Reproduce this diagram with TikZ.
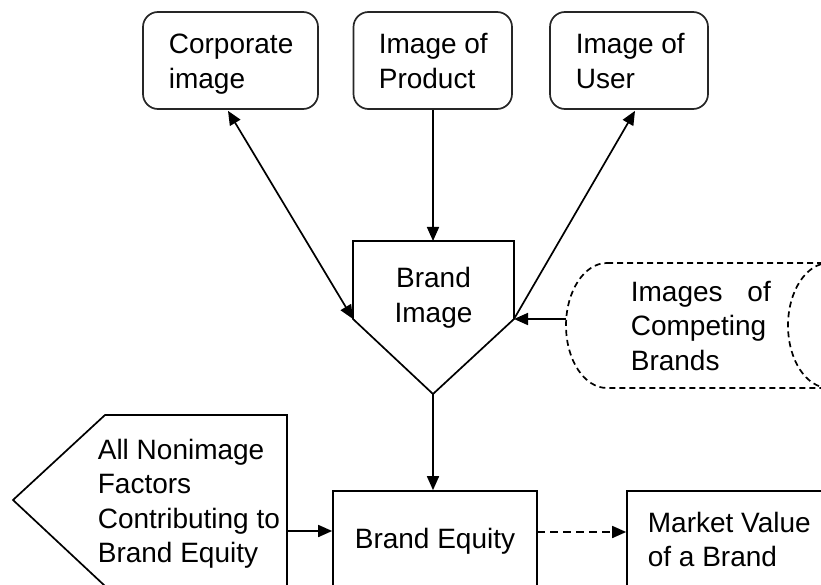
\documentclass[tikz,border=0pt]{standalone}
\usepackage{fontspec}
\setmainfont{Liberation Sans}
\usetikzlibrary{arrows.meta,calc}
\begin{document}
\begin{tikzpicture}[x=1pt,y=-1pt,
  font=\fontsize{28}{34.5}\selectfont,
  line width=1.7pt,
  rbox/.style={draw=black!85, rounded corners=15pt, inner sep=0pt},
  sbox/.style={draw, inner sep=0pt},
  txt/.style={inner sep=0pt, align=left},
  arr/.style={-{Triangle[length=14pt,width=12pt]}},
  dasharr/.style={arr, dash pattern=on 8pt off 5pt},
]
\useasboundingbox (0,0) rectangle (821,585);
\clip (0,0) rectangle (821,585);

% top rounded boxes
\node[rbox, minimum width=175pt, minimum height=97pt] (corp) at (230.5,60.5) {};
\node[txt, anchor=base west] (corptxt) at (168,88.5) {Corporate\\image};
\node[rbox, minimum width=158.5pt, minimum height=97pt] (prod) at (432.75,60.5) {};
\node[txt, anchor=base west] (prodtxt) at (378,88.5) {Image of\\Product};
\node[rbox, minimum width=158pt, minimum height=97pt] (user) at (629,60.5) {};
\node[txt, anchor=base west] (usertxt) at (575,88.5) {Image of\\User};

% brand image pentagon
\coordinate (bitl) at (353,241);
\coordinate (bitr) at (514,241);
\coordinate (bir) at (514,319);
\coordinate (bib) at (433,394);
\coordinate (bil) at (353,319);
\coordinate (bit) at (433,241);
\draw[line join=miter] (bitl) -- (bitr) -- (bir) -- (bib) -- (bil) -- cycle;
\node[txt, align=center, anchor=base] (bitxt) at (433.5,322) {Brand\\Image};

% competing brands (dashed stored-data shape)
\draw[dash pattern=on 6pt off 4pt] (607,263) -- (829,263)
  arc[start angle=270, end angle=90, x radius=41, y radius=62.5]
  -- (607,388)
  arc[start angle=90, end angle=270, x radius=41, y radius=62.5] -- cycle;
\coordinate (compl) at (566,319);
\node[txt, anchor=base west] (comptxt) at (630,370) {\hbox to 140pt{Images\hfill of}\\Competing\\Brands};

% nonimage factors
\draw[line join=miter] (105,415) -- (287,415) -- (287,600) -- (120,600) -- (13,500) -- cycle;
\coordinate (nir) at (287,531);
\node[txt, anchor=base west] (nitxt) at (97,562.5) {All Nonimage\\Factors\\Contributing to\\Brand Equity};

% brand equity and market value
\node[sbox, minimum width=204pt, minimum height=129pt] (beq) at (435,555.5) {};
\node[txt, anchor=base] (beqtxt) at (435,548) {Brand Equity};
\node[sbox, minimum width=273pt, minimum height=129pt] (mv) at (763.5,555.5) {};
\node[txt, anchor=base west] (mvtxt) at (647,566.5) {Market Value\\of a Brand};
\coordinate (eqr) at (537,532);

% connectors
\draw[{Triangle[length=14pt,width=12pt]}-{Triangle[length=14pt,width=12pt]}] ($(corp.south)+(-2.5,1)$) -- (bil);
\draw[arr] (prod.south -| bit) -- (bit);
\draw[arr] (bir) -- ($(user.south)+(6,1)$);
\draw[arr] (compl) -- (bir);
\draw[arr] (bib) -- (bib |- beq.north);
\draw[arr] (nir) -- (nir -| beq.west);
\draw[dasharr] (eqr) -- (eqr -| mv.west);
\end{tikzpicture}
\end{document}
